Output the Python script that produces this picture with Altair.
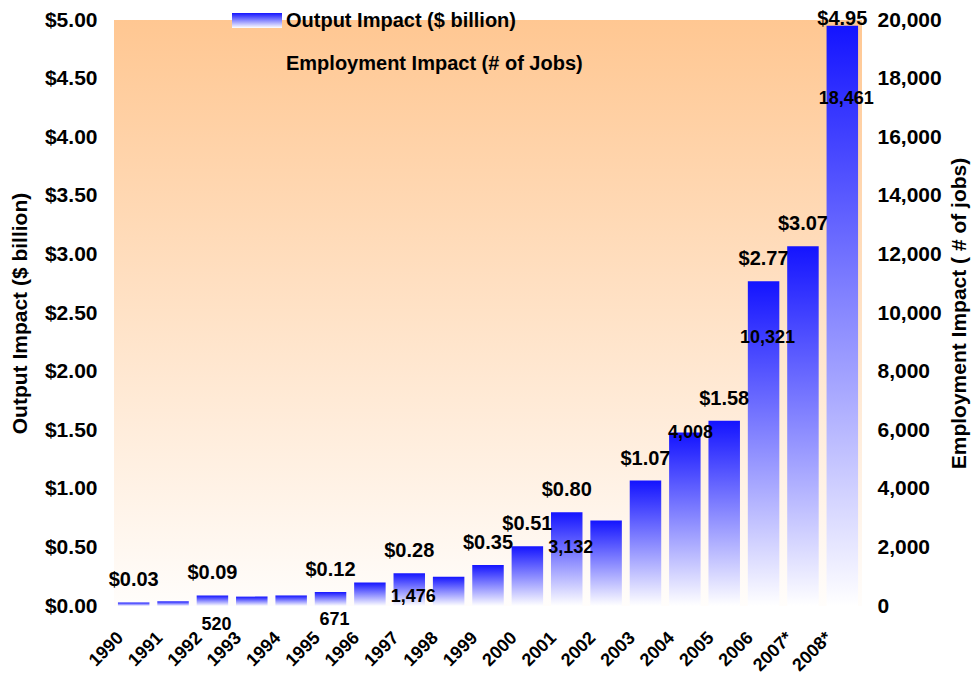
import altair as alt
import pandas as pd

# ---- data ----
years = ["1990", "1991", "1992", "1993", "1994", "1995", "1996", "1997", "1998", "1999",
         "2000", "2001", "2002", "2003", "2004", "2005", "2006", "2007*", "2008*"]
output = [0.03, 0.04, 0.09, 0.08, 0.09, 0.12, 0.20, 0.28, 0.25, 0.35,
          0.51, 0.80, 0.73, 1.07, 1.48, 1.58, 2.77, 3.07, 4.95]
output_labeled_years = ["1990", "1992", "1995", "1997", "1999", "2000", "2001",
                        "2003", "2005", "2006", "2007*", "2008*"]
emp_years = ["1992", "1995", "1997", "2001", "2003", "2006", "2008*"]
emp_values = [520, 671, 1476, 3132, 4008, 10321, 18461]
left_ticks = [0, 0.5, 1.0, 1.5, 2.0, 2.5, 3.0, 3.5, 4.0, 4.5, 5.0]
right_ticks = [0, 2000, 4000, 6000, 8000, 10000, 12000, 14000, 16000, 18000, 20000]

FONT = "Liberation Sans"
W, H = 748, 586

df = pd.DataFrame({"year": years, "output": output})
df["show"] = df["year"].isin(output_labeled_years)
emp_df = pd.DataFrame({"year": emp_years, "jobs": emp_values})
one = pd.DataFrame({"k": [0]})

bar_grad = alt.Gradient(
    gradient="linear",
    stops=[alt.GradientStop(color="#1414ff", offset=0),
           alt.GradientStop(color="#ffffff", offset=1)],
    x1=0, x2=0, y1=0, y2=1,
)
bg_grad = alt.Gradient(
    gradient="linear",
    stops=[alt.GradientStop(color="#ffc792", offset=0),
           alt.GradientStop(color="#fffdfb", offset=1)],
    x1=0, x2=0, y1=0, y2=1,
)

x_scale = alt.Scale(domain=years, paddingInner=0.2, paddingOuter=0.1)
x_enc = alt.X(
    "year:N", scale=x_scale,
    axis=alt.Axis(title=None, labelAngle=-45, labelAlign="right", labelBaseline="middle",
                  labelPadding=29, labelOffset=-13, labelFontSize=18, labelFontWeight="bold",
                  labelFont=FONT, labelColor="black", ticks=False, domain=False,
                  grid=False, labelOverlap=False),
)

y_left = alt.Y(
    "output:Q",
    scale=alt.Scale(domain=[0, 5], nice=False),
    axis=alt.Axis(values=left_ticks, format="$.2f", title="Output Impact ($ billion)",
                  labelFontSize=21, labelFontWeight="bold", labelFont=FONT, labelColor="black",
                  labelPadding=17, ticks=False, domain=False, grid=False,
                  titleFontSize=21, titleFontWeight="bold", titleFont=FONT, titleColor="black",
                  titleAngle=270, titleX=-94, titleY=293, titleAlign="center",
                  titleBaseline="middle"),
)

background = alt.Chart(one).mark_rect(fill=bg_grad).encode(
    x=alt.value(0), x2=alt.value(W), y=alt.value(0), y2=alt.value(H)
)

bars = alt.Chart(df).mark_bar(fill=bar_grad).encode(x=x_enc, y=y_left)

bar_labels = (
    alt.Chart(df)
    .transform_filter("datum.show")
    .transform_calculate(ly="min(datum.output, 4.82)",
                         lab="'$' + format(datum.output, '.2f')")
    .mark_text(dy=-22, fontSize=20, fontWeight="bold", font=FONT, baseline="middle",
               align="center", color="black")
    .encode(x=alt.X("year:N", scale=x_scale), y=alt.Y("ly:Q"), text="lab:N")
)

legend_rect = alt.Chart(one).mark_rect(fill=bar_grad).encode(
    x=alt.value(118), x2=alt.value(168), y=alt.value(-7), y2=alt.value(8)
)
legend_t1 = alt.Chart(one).mark_text(
    text="Output Impact ($ billion)", align="left", baseline="middle",
    fontSize=20, fontWeight="bold", font=FONT, color="black"
).encode(x=alt.value(172), y=alt.value(1))
legend_t2 = alt.Chart(one).mark_text(
    text="Employment Impact (# of Jobs)", align="left", baseline="middle",
    fontSize=20, fontWeight="bold", font=FONT, color="black"
).encode(x=alt.value(172), y=alt.value(44))

inner = alt.layer(background, bars, bar_labels, legend_rect, legend_t1, legend_t2)

y_right = alt.Y(
    "jobs:Q",
    scale=alt.Scale(domain=[0, 20000], nice=False),
    axis=alt.Axis(orient="right", values=right_ticks, format=",.0f",
                  title="Employment Impact ( # of jobs)",
                  labelFontSize=21, labelFontWeight="bold", labelFont=FONT, labelColor="black",
                  labelPadding=15, labelAlign="left", ticks=False, domain=False, grid=False,
                  titleFontSize=21, titleFontWeight="bold", titleFont=FONT, titleColor="black",
                  titleAngle=270, titleX=97, titleY=293, titleAlign="center",
                  titleBaseline="middle"),
)

emp_main = (
    alt.Chart(emp_df)
    .transform_filter("datum.year != '2003'")
    .mark_text(dx=4, dy=34, fontSize=18, fontWeight="bold", font=FONT, baseline="middle",
               align="center", color="black")
    .encode(x=alt.X("year:N", scale=x_scale), y=y_right, text=alt.Text("jobs:Q", format=","))
)
emp_above = (
    alt.Chart(emp_df)
    .transform_filter("datum.year == '2003'")
    .mark_text(dx=45, dy=-56, fontSize=18, fontWeight="bold", font=FONT, baseline="middle",
               align="center", color="black")
    .encode(x=alt.X("year:N", scale=x_scale), y=alt.Y("jobs:Q"),
            text=alt.Text("jobs:Q", format=","))
)
emp_layer = alt.layer(emp_main, emp_above)

chart = (
    alt.layer(inner, emp_layer)
    .resolve_scale(y="independent")
    .properties(width=W, height=H, background="white",
                padding={"left": 106, "top": 12, "right": 109, "bottom": 69},
                autosize=alt.AutoSizeParams(type="none"))
    .configure_view(stroke="transparent")
)

chart.save("out.html", embed_options={"renderer": "svg", "actions": False})
